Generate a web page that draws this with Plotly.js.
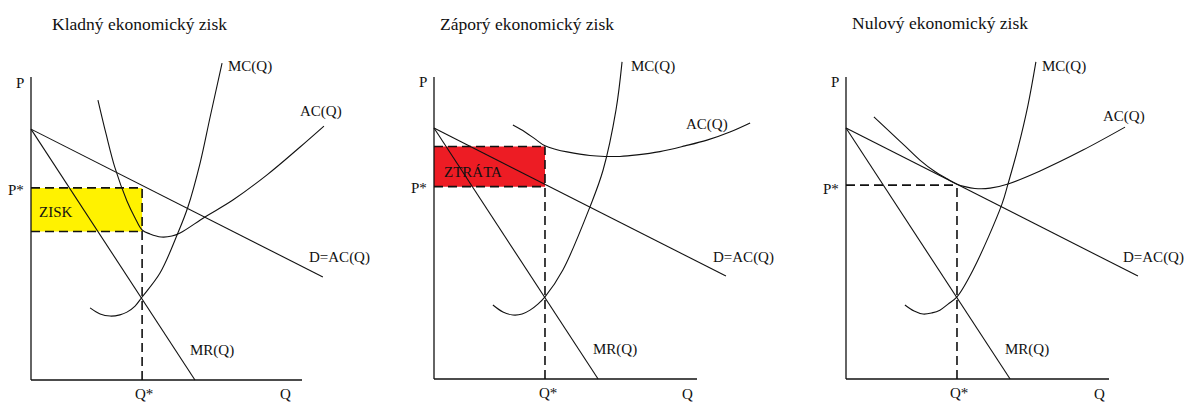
<!DOCTYPE html>
<html>
<head>
<meta charset="utf-8">
<script src="https://cdn.plot.ly/plotly-3.0.1.min.js"></script>
<style>
  html, body { margin: 0; padding: 0; background: #ffffff; }
  #chart { width: 1184px; height: 403px; }
</style>
</head>
<body>
<div id="chart"></div>
<script>
// ---- Kladný ekonomický zisk (panel 1) ----
const demandQ1 = [0, 10.77];
const demandP1 = [8.28, 3.40];
const mrQ1 = [0, 6.05];
const mrP1 = [8.28, 0];
const acQ1 = [2.47, 2.77, 3.10, 3.54, 3.84, 4.10, 4.39, 4.80, 5.20, 5.50, 6.42, 7.45, 8.71, 9.93, 10.81];
const acP1 = [9.24, 8.12, 7.00, 5.91, 5.35, 4.95, 4.82, 4.72, 4.75, 4.85, 5.38, 5.94, 6.77, 7.69, 8.38];
const mcQ1 = [2.18, 2.55, 2.92, 3.28, 3.54, 3.84, 4.10, 4.76, 5.42, 5.79, 6.24, 6.61, 7.05];
const mcP1 = [2.38, 2.18, 2.11, 2.15, 2.24, 2.44, 2.74, 3.53, 4.85, 5.71, 7.16, 8.68, 10.46];
const qStar1 = 4.10, pStar1 = 6.34, acStar1 = 4.90;

// ---- Záporý ekonomický zisk (panel 2) ----
const demandQ2 = [0, 11.10];
const demandP2 = [8.31, 3.41];
const mrQ2 = [0, 6.24];
const mrP2 = [8.31, 0];
const acQ2 = [3.00, 3.46, 3.84, 4.22, 4.64, 5.06, 5.93, 6.50, 7.07, 7.72, 8.59, 9.54, 10.38, 11.25, 12.02];
const acP2 = [8.41, 8.18, 7.95, 7.72, 7.60, 7.52, 7.40, 7.37, 7.37, 7.42, 7.53, 7.72, 7.91, 8.18, 8.48];
const mcQ2 = [2.24, 2.62, 3.00, 3.35, 3.65, 3.95, 4.22, 4.90, 5.93, 6.43, 6.92, 7.15];
const mcP2 = [2.45, 2.22, 2.12, 2.15, 2.28, 2.48, 2.72, 3.61, 5.70, 6.92, 8.91, 10.50];
const qStar2 = 4.22, pStar2 = 6.37, acStar2 = 7.70;

// ---- Nulový ekonomický zisk (panel 3) ----
const demandQ3 = [0, 11.10];
const demandP3 = [8.31, 3.41];
const mrQ3 = [0, 6.24];
const mrP3 = [8.31, 0];
const acQ3 = [1.06, 1.67, 2.24, 2.81, 3.38, 3.84, 4.22, 4.52, 4.90, 5.48, 6.16, 7.38, 9.01, 10.61];
const acP3 = [8.68, 8.18, 7.72, 7.25, 6.87, 6.63, 6.45, 6.37, 6.31, 6.32, 6.46, 6.89, 7.58, 8.34];
const mcQ3 = [2.24, 2.59, 2.93, 3.27, 3.57, 3.88, 4.22, 4.83, 5.93, 6.16, 6.54, 6.92, 7.22];
const mcP3 = [2.45, 2.25, 2.15, 2.19, 2.28, 2.48, 2.72, 3.61, 5.79, 6.46, 7.65, 9.07, 10.50];
const qStar3 = 4.22, pStar3 = 6.42;

// Axis extents (the drawn P and Q axes run from 0 to these values)
const axisMax = 10;

// Page frame of each panel: left/right edge in px, origin in px, px per unit
const W = 1184, H = 403;
const frames = [
  { left: 0,   right: 400,  ox: 31,  oy: 380, sx: 27.1, sy: 30.3 },
  { left: 400, right: 800,  ox: 434, oy: 379, sx: 26.3, sy: 30.2 },
  { left: 800, right: 1184, ox: 846, oy: 379, sx: 26.3, sy: 30.2 }
];

const INK = '#111111';
const FONT = "'Liberation Serif', 'Times New Roman', serif";
const traces = [];

function ax(i) { return i === 0 ? '' : String(i + 1); }

function line(i, x, y, opts) {
  traces.push(Object.assign({
    type: 'scatter', mode: 'lines', x: x, y: y,
    xaxis: 'x' + ax(i), yaxis: 'y' + ax(i),
    hoverinfo: 'skip', showlegend: false,
    line: { color: INK, width: 1.1 }
  }, opts || {}));
}

function curve(i, x, y) {
  line(i, x, y, { line: { color: INK, width: 1.1, shape: 'spline', smoothing: 1 } });
}

function dashed(i, x, y) {
  line(i, x, y, { line: { color: INK, width: 1.6, dash: '9px,5px' } });
}

function area(i, q0, q1, p0, p1, color) {
  line(i, [q0, q1, q1, q0, q0], [p0, p0, p1, p1, p0], {
    fill: 'toself', fillcolor: color, line: { width: 0, color: color }
  });
}

function axes(i) {
  line(i, [0, 0], [0, axisMax], { line: { color: INK, width: 1.3 } });
  line(i, [0, axisMax], [0, 0], { line: { color: INK, width: 1.3 } });
}

// Panel 1: profit rectangle between P* and AC(Q*)
area(0, 0, qStar1, acStar1, pStar1, '#fff200');
dashed(0, [0, qStar1], [pStar1, pStar1]);
dashed(0, [0, qStar1], [acStar1, acStar1]);
dashed(0, [qStar1, qStar1], [0, pStar1]);
line(0, demandQ1, demandP1);
line(0, mrQ1, mrP1);
curve(0, acQ1, acP1);
curve(0, mcQ1, mcP1);
axes(0);

// Panel 2: loss rectangle between AC(Q*) and P*
area(1, 0, qStar2, pStar2, acStar2, '#ed1c24');
dashed(1, [0, qStar2], [acStar2, acStar2]);
dashed(1, [0, qStar2], [pStar2, pStar2]);
dashed(1, [qStar2, qStar2], [0, acStar2]);
line(1, demandQ2, demandP2);
line(1, mrQ2, mrP2);
curve(1, acQ2, acP2);
curve(1, mcQ2, mcP2);
axes(1);

// Panel 3: AC tangent to demand at Q*
dashed(2, [0, qStar3], [pStar3, pStar3]);
dashed(2, [qStar3, qStar3], [0, pStar3]);
line(2, demandQ3, demandP3);
line(2, mrQ3, mrP3);
curve(2, acQ3, acP3);
curve(2, mcQ3, mcP3);
axes(2);

// Axes configuration derived from the panel frames
const layout = {
  width: W, height: H,
  margin: { l: 0, r: 0, t: 0, b: 0, pad: 0 },
  paper_bgcolor: '#ffffff', plot_bgcolor: '#ffffff',
  showlegend: false,
  font: { family: FONT, color: INK, size: 15 },
  annotations: []
};

frames.forEach((f, i) => {
  const k = ax(i);
  layout['xaxis' + k] = {
    domain: [f.left / W, f.right / W],
    range: [(f.left - f.ox) / f.sx, (f.right - f.ox) / f.sx],
    anchor: 'y' + k, visible: false, fixedrange: true
  };
  layout['yaxis' + k] = {
    domain: [0, 1],
    range: [(f.oy - H) / f.sy, f.oy / f.sy],
    anchor: 'x' + k, visible: false, fixedrange: true
  };
});

// Text labels, placed in page pixels
function label(text, x, y, size, anchor) {
  layout.annotations.push({
    text: text, xref: 'paper', yref: 'paper',
    x: x / W, y: 1 - y / H,
    xanchor: anchor || 'center', yanchor: 'middle',
    showarrow: false,
    font: { family: FONT, size: size || 15, color: INK }
  });
}

label('Kladný ekonomický zisk', 139, 24, 17.5);
label('Záporý ekonomický zisk', 527, 24, 17.5);
label('Nulový ekonomický zisk', 940, 23, 17.5);

const labelSets = [
  { P: [20, 83], Ps: [16, 190], Qs: [144, 394], Q: [285, 394],
    MC: [250, 66], AC: [321, 111], D: [339, 257], MR: [212, 350] },
  { P: [423, 82], Ps: [419, 188], Qs: [548, 393], Q: [687, 394],
    MC: [653, 66], AC: [707, 124], D: [743, 257], MR: [615, 349] },
  { P: [835, 82], Ps: [831, 189], Qs: [959, 393], Q: [1099, 394],
    MC: [1064, 66], AC: [1124, 116], D: [1153, 257], MR: [1027, 349] }
];
labelSets.forEach(s => {
  label('P', s.P[0], s.P[1]);
  label('P*', s.Ps[0], s.Ps[1]);
  label('Q*', s.Qs[0], s.Qs[1]);
  label('Q', s.Q[0], s.Q[1]);
  label('MC(Q)', s.MC[0], s.MC[1]);
  label('AC(Q)', s.AC[0], s.AC[1]);
  label('D=AC(Q)', s.D[0], s.D[1]);
  label('MR(Q)', s.MR[0], s.MR[1]);
});
label('ZISK', 56, 212);
label('ZTRÁTA', 473, 172);

Plotly.newPlot('chart', traces, layout, { staticPlot: true, displayModeBar: false });
</script>
</body>
</html>
